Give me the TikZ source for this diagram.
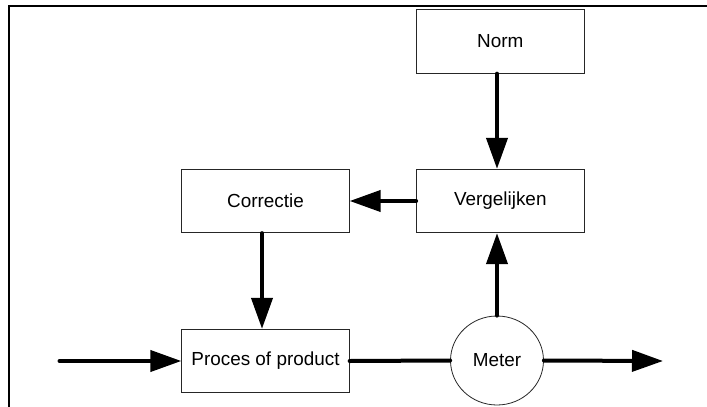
\documentclass[tikz,border=0pt]{standalone}
\usepackage{fontspec}
\setmainfont{Liberation Sans}
\usetikzlibrary{arrows.meta,shapes.geometric}
\begin{document}
\begin{tikzpicture}[x=1pt,y=-1pt,
  block/.style={draw=black!85,line width=0.8pt,minimum width=167.5pt,minimum height=63.5pt,
    inner sep=0pt,font=\fontsize{18.9pt}{22pt}\selectfont},
  meterbox/.style={ellipse,draw=black!85,line width=0.8pt,minimum width=93pt,minimum height=89pt,
    inner sep=0pt,font=\fontsize{18.9pt}{22pt}\selectfont},
  flow/.style={line width=4pt,line cap=round,-{Triangle[length=31pt,width=21pt]}},
  link/.style={line width=4pt,line cap=round}]
  \useasboundingbox (0,0) rectangle (707,407);
  % outer frame (top and left edges)
  \draw[line width=1.8pt] (8.9,407) -- (8.9,5.9) -- (707,5.9);
  % blocks
  \node[block] (norm) at (500.3,41.5) {Norm};
  \node[block] (verg) at (500.3,201) {Vergelijken};
  \node[block] (corr) at (265.5,201) {Correctie};
  \node[block] (proc) at (265.5,361) {Proces of product};
  \node[meterbox] (meter) at (497,360.5) {Meter};
  \coordinate (in) at (59.5,361);
  \coordinate (out) at (663,361);
  % connectors
  \draw[flow] (in) -- (proc.west);
  \draw[link] (proc.east) -- (meter.west);
  \draw[flow] (meter.east) -- (out);
  \draw[flow] (meter.north) -- (meter.north |- verg.south);
  \draw[flow] (norm.south -| meter.north) -- (verg.north -| meter.north);
  \draw[flow] (verg.west) -- (corr.east);
  \draw[flow] ([xshift=-3.5pt]corr.south) -- ([xshift=-3.5pt]proc.north);
\end{tikzpicture}
\end{document}
